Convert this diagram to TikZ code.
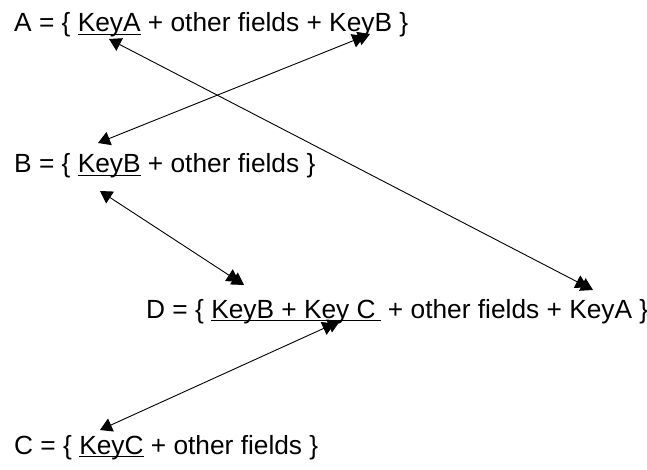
\documentclass[tikz,border=0pt]{standalone}
\usepackage{fontspec}
\setmainfont{Liberation Sans}
\usetikzlibrary{arrows.meta}
\newcommand\myul[1]{\setbox0\hbox{#1}\rlap{\rule[-3pt]{\wd0}{1.2pt}}\box0\relax}
\tikzset{
  lbl/.style={anchor=base west, inner sep=0pt, font=\fontsize{26.3pt}{30pt}\selectfont},
  onetip/.tip={Triangle[length=12pt,width=14pt]},
  twotip/.tip={Triangle[length=12pt,width=14pt,sep=-6pt]Triangle[length=12pt,width=14pt]},
  link/.style={line width=0.9pt, black},
}
\begin{document}
\begin{tikzpicture}[x=1pt,y=-1pt]
\useasboundingbox (0,0) rectangle (647,470);
\node[lbl] (A) at (14,32) {A = \{ \myul{KeyA} + other fields + KeyB \}};
\node[lbl] (B) at (14,173) {B = \{ \myul{KeyB} + other fields \}};
\node[lbl] (D) at (146,318) {D = \{ \myul{KeyB + Key C\hspace{5pt}} + other fields + KeyA \}};
\node[lbl] (C) at (14,454) {C = \{ \myul{KeyC} + other fields \}};
\coordinate (aKA) at (109,39);
\coordinate (aKB) at (370,34);
\coordinate (bKBt) at (98,143);
\coordinate (bKBb) at (100,191);
\coordinate (dKA) at (593,290);
\coordinate (dKB) at (244,285);
\coordinate (dKC) at (340,321);
\coordinate (cKC) at (100,430);
\draw[link, {onetip}-{twotip}] (aKA) -- (dKA);
\draw[link, {onetip}-{twotip}] (bKBt) -- (aKB);
\draw[link, {onetip}-{twotip}] (bKBb) -- (dKB);
\draw[link, {onetip}-{twotip}] (cKC) -- (dKC);
\end{tikzpicture}
\end{document}
